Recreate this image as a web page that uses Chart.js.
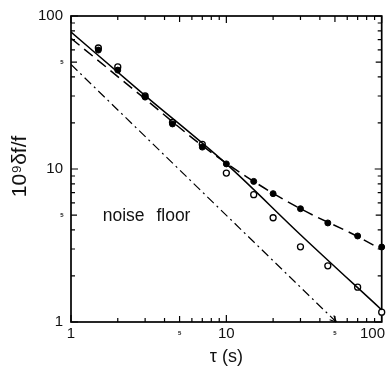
<!DOCTYPE html>
<html><head><meta charset="utf-8">
<script src="https://cdn.jsdelivr.net/npm/chart.js@4/dist/chart.umd.min.js"></script>
<style>html,body{margin:0;padding:0;background:#fff;}</style>
</head><body>
<canvas id="c" width="387" height="370"></canvas>
<script>
// averaging time tau (s) of the measured points
const tau = [1.5, 2, 3, 4.5, 7, 10, 15, 20, 30, 45, 70, 100];
const openCircles = [61.8, 46.5, 30.0, 20.2, 14.5, 9.4, 6.8, 4.8, 3.1, 2.33, 1.69, 1.16];
const filledCircles = [59.9, 44.3, 29.5, 19.7, 13.9, 10.8, 8.3, 6.9, 5.5, 4.44, 3.65, 3.09];
// fitted curves
const solidTau = [1, 3, 10, 30, 100];
const solidFit = [78.6, 30.2, 10.8, 3.72, 1.2];
const dashedTau = [1, 3, 7, 15, 30, 70, 100];
const dashedFit = [71.5, 28.7, 14.2, 8.3, 5.5, 3.62, 2.97];
const noiseTau = [1, 51];
const noiseFloor = [48.2, 1];
// axis ticks
const majorTicks = [1, 10, 100];
const fiveTicks = [5, 50];
const minorTicks = [2, 3, 4, 6, 7, 8, 9, 20, 30, 40, 60, 70, 80, 90];
const xTickLabels = ['1', '10', '100'];
const yTickLabels = ['1', '10', '100'];
const xTitle = 'τ (s)';
const yTitle = '10⁹δf/f';
const noteText = 'noise floor';
const notePos = {x: 1.6, y: 4.9};

const pts = (xs, ys) => xs.map((t, i) => ({x: t, y: ys[i]}));
const FONT = '"Liberation Sans", Arial, sans-serif';

const framePlugin = {
  id: 'frame',
  beforeDatasetsDraw(chart) {
    const {ctx, chartArea: a, scales: {x, y}} = chart;
    ctx.save();
    ctx.strokeStyle = '#000';
    ctx.lineWidth = 1.7;
    ctx.strokeRect(a.left, a.top, a.right - a.left, a.bottom - a.top);
    ctx.lineWidth = 1.2;
    const drawX = (v, len) => {
      const px = x.getPixelForValue(v);
      ctx.beginPath();
      ctx.moveTo(px, a.bottom); ctx.lineTo(px, a.bottom - len);
      ctx.moveTo(px, a.top); ctx.lineTo(px, a.top + len);
      ctx.stroke();
    };
    const drawY = (v, len) => {
      const py = y.getPixelForValue(v);
      ctx.beginPath();
      ctx.moveTo(a.left, py); ctx.lineTo(a.left + len, py);
      ctx.moveTo(a.right, py); ctx.lineTo(a.right - len, py);
      ctx.stroke();
    };
    majorTicks.forEach(v => { drawX(v, 7); drawY(v, 7); });
    fiveTicks.forEach(v => { drawX(v, 6); drawY(v, 6); });
    minorTicks.forEach(v => { drawX(v, 4); drawY(v, 4); });
    ctx.restore();
  },
  afterDraw(chart) {
    const {ctx, chartArea: a, scales: {x, y}, width} = chart;
    ctx.save();
    ctx.fillStyle = '#111';
    // y tick labels
    ctx.font = '15px ' + FONT;
    ctx.textAlign = 'right';
    ctx.textBaseline = 'middle';
    majorTicks.forEach((v, i) => ctx.fillText(yTickLabels[i], a.left - 8, y.getPixelForValue(v)));
    // x tick labels
    ctx.textAlign = 'center';
    majorTicks.forEach((v, i) => {
      const w = ctx.measureText(xTickLabels[i]).width;
      let px = x.getPixelForValue(v);
      px = Math.min(px, width - w / 2 - 2);
      ctx.fillText(xTickLabels[i], px, a.bottom + 12);
    });
    // tiny "5" labels
    ctx.font = 'bold 6px ' + FONT;
    fiveTicks.forEach(v => {
      ctx.fillText('5', x.getPixelForValue(v), a.bottom + 11);
      ctx.fillText('5', a.left - 9, y.getPixelForValue(v));
    });
    // x title
    ctx.font = '18px ' + FONT;
    ctx.fillText(xTitle, (a.left + a.right) / 2, a.bottom + 35);
    // y title
    ctx.save();
    ctx.translate(20, y.getPixelForValue(10.4));
    ctx.rotate(-Math.PI / 2);
    ctx.font = '21px ' + FONT;
    ctx.fillText(yTitle, 0, 0);
    ctx.restore();
    // note
    ctx.font = '17.5px ' + FONT;
    ctx.textAlign = 'left';
    try { ctx.wordSpacing = '7px'; } catch (e) {}
    ctx.fillText(noteText, x.getPixelForValue(notePos.x), y.getPixelForValue(notePos.y));
    try { ctx.wordSpacing = '0px'; } catch (e) {}
    // arrowhead at end of noise floor line
    const x0 = x.getPixelForValue(noiseTau[0]), y0 = y.getPixelForValue(noiseFloor[0]);
    const x1 = x.getPixelForValue(noiseTau[1]), y1 = y.getPixelForValue(noiseFloor[1]);
    const ang = Math.atan2(y1 - y0, x1 - x0);
    ctx.strokeStyle = '#000';
    ctx.lineWidth = 1.2;
    ctx.beginPath();
    [-0.45, 0.45].forEach(d => {
      ctx.moveTo(x1, y1);
      ctx.lineTo(x1 - 7 * Math.cos(ang + d), y1 - 7 * Math.sin(ang + d));
    });
    ctx.stroke();
    ctx.restore();
  }
};

new Chart(document.getElementById('c'), {
  type: 'line',
  data: {
    datasets: [
      {data: pts(solidTau, solidFit), borderColor: '#000', borderWidth: 1.5, pointRadius: 0,
       cubicInterpolationMode: 'monotone', fill: false},
      {data: pts(dashedTau, dashedFit), borderColor: '#000', borderWidth: 1.5, pointRadius: 0,
       borderDash: [11, 6], cubicInterpolationMode: 'monotone', fill: false},
      {data: pts(noiseTau, noiseFloor), borderColor: '#000', borderWidth: 1.2, pointRadius: 0,
       borderDash: [9, 4, 2, 4], fill: false},
      {data: pts(tau, filledCircles), showLine: false, pointRadius: 3, pointBackgroundColor: '#000',
       pointBorderColor: '#000', pointBorderWidth: 1, clip: false},
      {data: pts(tau, openCircles), showLine: false, pointRadius: 3, pointBackgroundColor: '#fff',
       pointBorderColor: '#000', pointBorderWidth: 1.3, clip: false}
    ]
  },
  options: {
    responsive: false,
    animation: false,
    devicePixelRatio: 1,
    layout: {padding: {left: 71, top: 16, right: 5, bottom: 48}},
    plugins: {legend: {display: false}, tooltip: {enabled: false}},
    scales: {
      x: {type: 'logarithmic', min: 1, max: 100, display: false},
      y: {type: 'logarithmic', min: 1, max: 100, display: false}
    }
  },
  plugins: [framePlugin]
});
</script>
</body></html>
